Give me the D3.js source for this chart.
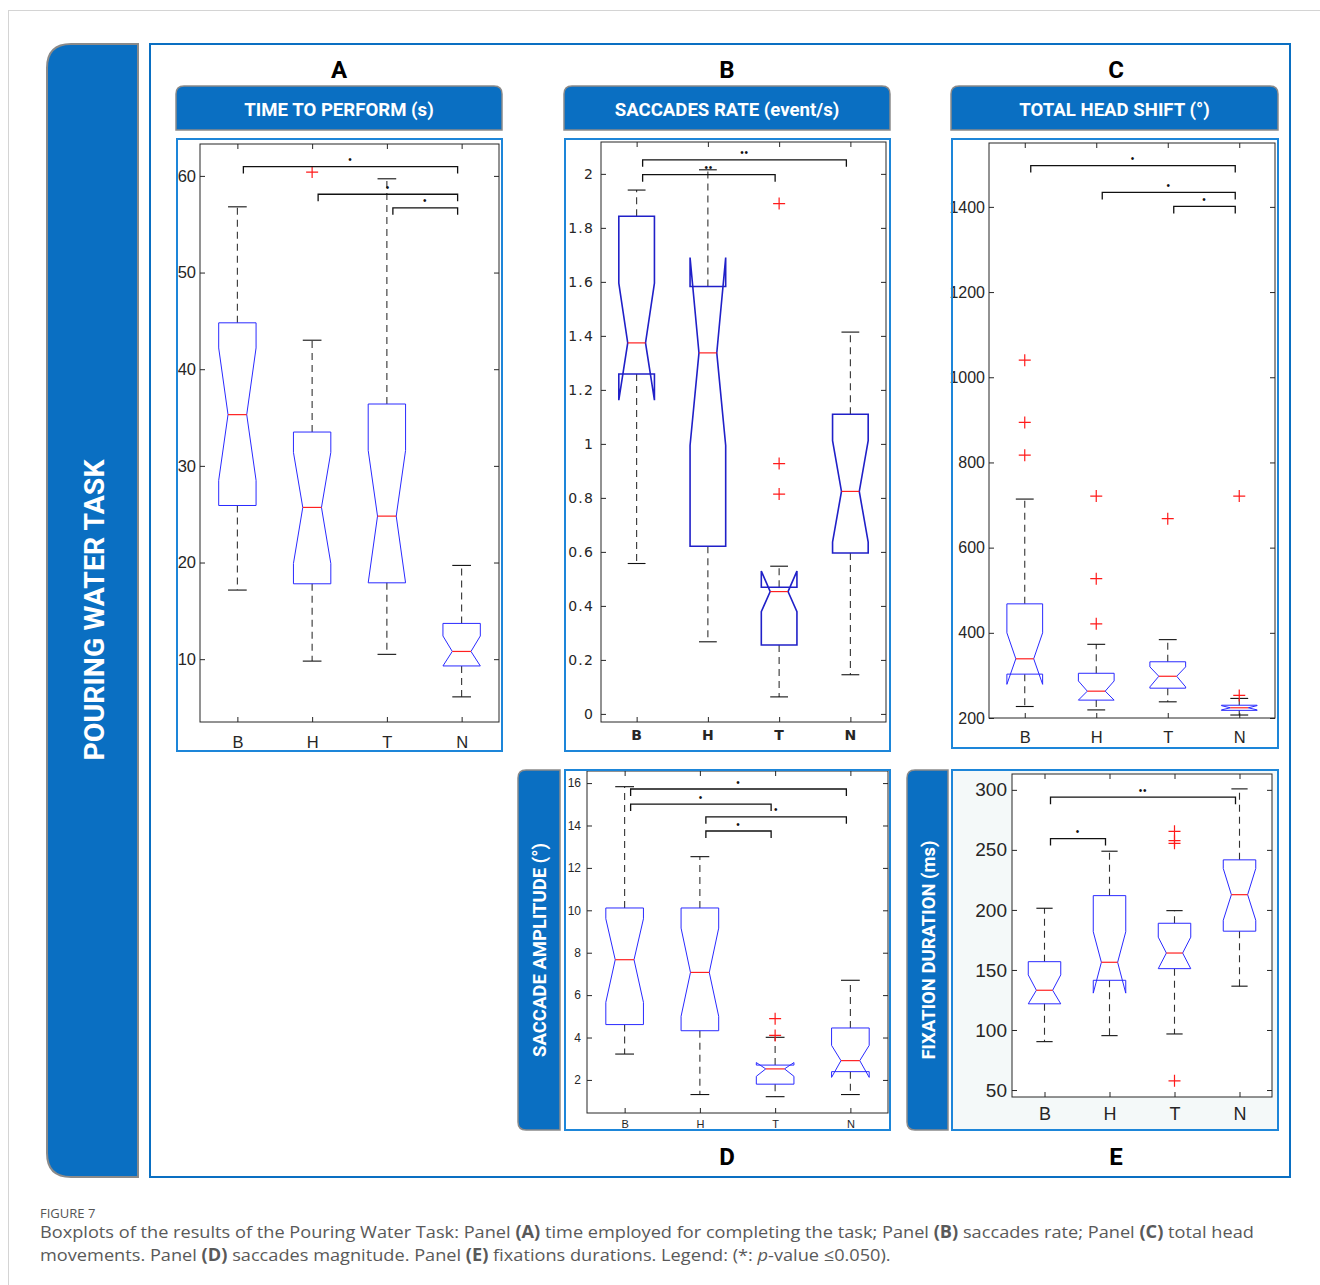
<!DOCTYPE html>
<html><head><meta charset="utf-8">
<script src="https://cdn.jsdelivr.net/npm/d3@7"></script>
<style>body{margin:0;background:#fff}</style>
</head><body>
<svg id="chart" width="1320" height="1285"></svg>
<script>
// ---------------- DATA ----------------
const categories = ["B", "H", "T", "N"];

// Panel A: time to perform (s)
const timeWhiskerLo = [17.15, 9.8, 10.5, 6.1];
const timeQ1        = [25.9, 17.8, 17.9, 9.3];
const timeNotchLo   = [28.5, 19.9, 17.9, 9.3];
const timeMedian    = [35.3, 25.7, 24.8, 10.8];
const timeNotchHi   = [42.2, 31.4, 31.6, 12.4];
const timeQ3        = [44.8, 33.5, 36.4, 13.7];
const timeWhiskerHi = [56.8, 43.0, 59.7, 19.7];
const timeOutliers  = [[], [60.4], [], []];
const timeTicks     = [10, 20, 30, 40, 50, 60];
const timeTickLabels = ["10", "20", "30", "40", "50", "60"];
const timeSig = [["B", "N", 60.96, "•"], ["H", "N", 58.1, "•"], ["T", "N", 56.7, "•"]];

// Panel B: saccades rate (event/s)
const rateWhiskerLo = [0.557, 0.267, 0.063, 0.145];
const rateQ1        = [1.259, 0.621, 0.255, 0.596];
const rateNotchLo   = [1.162, 0.994, 0.379, 0.636];
const rateMedian    = [1.374, 1.337, 0.453, 0.824];
const rateNotchHi   = [1.595, 1.690, 0.529, 1.012];
const rateQ3        = [1.843, 1.583, 0.469, 1.110];
const rateWhiskerHi = [1.940, 2.015, 0.547, 1.414];
const rateOutliers  = [[], [], [1.890, 0.927, 0.814], []];
const rateTicks     = [0, 0.2, 0.4, 0.6, 0.8, 1, 1.2, 1.4, 1.6, 1.8, 2];
const rateTickLabels = ["0", "0.2", "0.4", "0.6", "0.8", "1", "1.2", "1.4", "1.6", "1.8", "2"];
const rateSig = [["B", "N", 2.052, "••"], ["B", "T", 1.997, "••"]];

// Panel C: total head shift (°)
const headWhiskerLo = [227, 219, 238, 207];
const headQ1        = [303, 242, 270, 218];
const headNotchLo   = [279, 242, 273, 219];
const headMedian    = [339, 263, 298, 224];
const headNotchHi   = [400, 287, 320, 229];
const headQ3        = [468, 305, 332, 230];
const headWhiskerHi = [714, 373, 384, 246];
const headOutliers  = [[1040, 894, 817], [721, 527, 421], [668], [721, 253]];
const headTicks     = [200, 400, 600, 800, 1000, 1200, 1400];
const headTickLabels = ["200", "400", "600", "800", "1000", "1200", "1400"];
const headSig = [["B", "N", 1497, "•"], ["H", "N", 1434, "•"], ["T", "N", 1401, "•"]];

// Panel D: saccade amplitude (°)
const ampWhiskerLo = [3.22, 1.31, 1.21, 1.31];
const ampQ1        = [4.61, 4.32, 1.80, 2.39];
const ampNotchLo   = [5.66, 5.00, 2.17, 2.12];
const ampMedian    = [7.67, 7.07, 2.52, 2.91];
const ampNotchHi   = [9.60, 9.16, 2.82, 3.63];
const ampQ3        = [10.11, 10.11, 2.70, 4.45];
const ampWhiskerHi = [15.83, 12.53, 4.01, 6.70];
const ampOutliers  = [[], [], [4.89, 4.10], []];
const ampTicks     = [2, 4, 6, 8, 10, 12, 14, 16];
const ampTickLabels = ["2", "4", "6", "8", "10", "12", "14", "16"];
const ampSig = [["B", "N", 15.72, "•"], ["B", "T", 15.01, "•"], ["H", "N", 14.41, "•"], ["H", "T", 13.74, "•"]];

// Panel E: fixation duration (ms)
const fixWhiskerLo = [90.3, 95.3, 96.7, 136.5];
const fixQ1        = [121.8, 141.4, 151.1, 182.3];
const fixNotchLo   = [121.8, 130.7, 151.1, 191.4];
const fixMedian    = [133.1, 156.4, 164.1, 212.7];
const fixNotchHi   = [145.9, 181.8, 177.3, 234.5];
const fixQ3        = [156.9, 211.9, 188.9, 241.7];
const fixWhiskerHi = [201.4, 248.9, 199.4, 300.8];
const fixOutliers  = [[], [], [265.5, 257.7, 255.5, 57.7], []];
const fixTicks     = [50, 100, 150, 200, 250, 300];
const fixTickLabels = ["50", "100", "150", "200", "250", "300"];
const fixSig = [["B", "N", 293.9, "••"], ["B", "H", 259.4, "•"]];

// ---------------- DRAWING ----------------
const BLUE = "#0a6fc2";
const FRAME = "#1d86d9";
const svg = d3.select("#chart");

// outer card
svg.append("rect").attr("x", 8.5).attr("y", 10.5).attr("width", 1340).attr("height", 1320)
  .attr("fill", "none").attr("stroke", "#d4d4d4").attr("stroke-width", 1);

function topRounded(x0, y0, x1, y1, r) {
  return `M${x0},${y1}L${x0},${y0 + r}Q${x0},${y0} ${x0 + r},${y0}L${x1 - r},${y0}Q${x1},${y0} ${x1},${y0 + r}L${x1},${y1}Z`;
}
function leftRounded(x0, y0, x1, y1, r) {
  return `M${x1},${y0}L${x0 + r},${y0}Q${x0},${y0} ${x0},${y0 + r}L${x0},${y1 - r}Q${x0},${y1} ${x0 + r},${y1}L${x1},${y1}Z`;
}

// left banner
svg.append("path").attr("d", leftRounded(47, 44, 138, 1177, 24))
  .attr("fill", BLUE).attr("stroke", "#8a8a8a").attr("stroke-width", 2);
svg.append("text").attr("transform", "translate(104,610) rotate(-90)")
  .attr("text-anchor", "middle").attr("fill", "#fff")
  .attr("font-family", "Roboto, Arial, sans-serif").attr("font-weight", 700).attr("font-size", 28.5)
  .text("POURING WATER TASK");

// main frame
svg.append("rect").attr("x", 150).attr("y", 44).attr("width", 1140).attr("height", 1133)
  .attr("fill", "none").attr("stroke", BLUE).attr("stroke-width", 2);

// panel letters
const letters = [["A", 339, 78], ["B", 727, 78], ["C", 1116, 78], ["D", 727, 1165], ["E", 1116, 1165]];
letters.forEach(([t, lx, ly]) => {
  svg.append("text").attr("x", lx).attr("y", ly).attr("text-anchor", "middle")
    .attr("font-family", "Roboto, Arial, sans-serif").attr("font-weight", 700).attr("font-size", 24)
    .attr("fill", "#000").text(t);
});

// top headers
const headers = [["TIME TO PERFORM (s)", 176, 502], ["SACCADES RATE (event/s)", 564, 890], ["TOTAL HEAD SHIFT (°)", 951, 1278]];
headers.forEach(([t, x0, x1]) => {
  svg.append("path").attr("d", topRounded(x0, 86, x1, 130, 8))
    .attr("fill", BLUE).attr("stroke", "#8a8a8a").attr("stroke-width", 1.5);
  svg.append("text").attr("x", (x0 + x1) / 2).attr("y", 116).attr("text-anchor", "middle")
    .attr("fill", "#fff").attr("font-family", "Roboto, Arial, sans-serif").attr("font-weight", 700)
    .attr("font-size", 18.6).text(t);
});

// side headers (D, E)
const sideHeaders = [["SACCADE AMPLITUDE (°)", 518, 560], ["FIXATION DURATION (ms)", 907, 948]];
sideHeaders.forEach(([t, x0, x1]) => {
  svg.append("path").attr("d", leftRounded(x0, 770, x1, 1130, 8))
    .attr("fill", BLUE).attr("stroke", "#8a8a8a").attr("stroke-width", 1.5);
  svg.append("text").attr("transform", `translate(${(x0 + x1) / 2 + 7},950) rotate(-90)`)
    .attr("text-anchor", "middle").attr("fill", "#fff")
    .attr("font-family", "Roboto, Arial, sans-serif").attr("font-weight", 700).attr("font-size", 18.5)
    .text(t);
});

const NARROW = '"Liberation Sans Narrow", "Arial Narrow", Arial, sans-serif';
const panels = [
  { frame: [177, 139, 502, 751], left: 200, right: 499, top: 144, bottom: 722, domain: [3.5, 63.3],
    ticks: timeTicks, labels: timeTickLabels, yFont: NARROW, yFs: 16.5, xFont: NARROW, xFs: 16.5, yPad: 4, xPad: 14,
    wLo: timeWhiskerLo, q1: timeQ1, nLo: timeNotchLo, med: timeMedian, nHi: timeNotchHi, q3: timeQ3, wHi: timeWhiskerHi,
    out: timeOutliers, sig: timeSig, boxColor: "#2a2aff", boxW: 1 },
  { frame: [565, 139, 890, 751], left: 601, right: 886, top: 142, bottom: 722, domain: [-0.03, 2.118],
    ticks: rateTicks, labels: rateTickLabels, yFont: '"DejaVu Sans", sans-serif', yFs: 14, xFont: '"DejaVu Sans", sans-serif', xFs: 14, yPad: 7, xPad: 8, ls: 1.2, xBold: true,
    wLo: rateWhiskerLo, q1: rateQ1, nLo: rateNotchLo, med: rateMedian, nHi: rateNotchHi, q3: rateQ3, wHi: rateWhiskerHi,
    out: rateOutliers, sig: rateSig, boxColor: "#2020c8", boxW: 1.6 },
  { frame: [952, 139, 1278, 748], left: 989, right: 1275, top: 143, bottom: 718, domain: [200, 1550],
    ticks: headTicks, labels: headTickLabels, yFont: NARROW, yFs: 16, xFont: NARROW, xFs: 16.5, yPad: 4, xPad: 13,
    wLo: headWhiskerLo, q1: headQ1, nLo: headNotchLo, med: headMedian, nHi: headNotchHi, q3: headQ3, wHi: headWhiskerHi,
    out: headOutliers, sig: headSig, boxColor: "#2a2aff", boxW: 1 },
  { frame: [565, 770, 890, 1130], left: 587, right: 888, top: 771, bottom: 1113, domain: [0.44, 16.57],
    ticks: ampTicks, labels: ampTickLabels, yFont: 'Arial, "Liberation Sans", sans-serif', yFs: 12, xFont: 'Arial, "Liberation Sans", sans-serif', xFs: 11, yPad: 6, xPad: 7,
    wLo: ampWhiskerLo, q1: ampQ1, nLo: ampNotchLo, med: ampMedian, nHi: ampNotchHi, q3: ampQ3, wHi: ampWhiskerHi,
    out: ampOutliers, sig: ampSig, boxColor: "#2a2aff", boxW: 1 },
  { frame: [952, 770, 1278, 1130], left: 1012, right: 1272, top: 774, bottom: 1097, domain: [44.2, 313.2],
    ticks: fixTicks, labels: fixTickLabels, yFont: NARROW, yFs: 19, xFont: 'Arial, "Liberation Sans", sans-serif', xFs: 18, yPad: 5, xPad: 10,
    wLo: fixWhiskerLo, q1: fixQ1, nLo: fixNotchLo, med: fixMedian, nHi: fixNotchHi, q3: fixQ3, wHi: fixWhiskerHi,
    out: fixOutliers, sig: fixSig, boxColor: "#2a2aff", boxW: 1, bg: "#f4f9f9" }
];

const AX = "#262626";
panels.forEach(p => {
  const g = svg.append("g");
  const [fx0, fy0, fx1, fy1] = p.frame;
  g.append("rect").attr("x", fx0).attr("y", fy0).attr("width", fx1 - fx0).attr("height", fy1 - fy0)
    .attr("fill", p.bg || "#fff");
  const x = d3.scaleLinear().domain([0.5, 4.5]).range([p.left, p.right]);
  const y = d3.scaleLinear().domain(p.domain).range([p.bottom, p.top]);
  g.append("rect").attr("x", p.left).attr("y", p.top).attr("width", p.right - p.left).attr("height", p.bottom - p.top)
    .attr("fill", "#fff");
  const idx = categories.map((c, i) => i + 1);
  const style = (sel, font, fs, bold) => {
    sel.select(".domain").remove();
    sel.selectAll(".tick line").attr("stroke", AX);
    sel.selectAll(".tick text").attr("fill", AX).attr("letter-spacing", p.ls || 0);
    sel.attr("font-family", font).attr("font-size", fs).attr("font-weight", bold ? 700 : 400);
  };
  g.append("g").attr("transform", `translate(0,${p.bottom})`)
    .call(d3.axisBottom(x).tickValues(idx).tickFormat(i => categories[i - 1]).tickSizeInner(-5).tickSizeOuter(0).tickPadding(p.xPad))
    .call(s => style(s, p.xFont, p.xFs, p.xBold));
  g.append("g").attr("transform", `translate(0,${p.top})`)
    .call(d3.axisTop(x).tickValues(idx).tickFormat("").tickSizeInner(-5).tickSizeOuter(0))
    .call(s => style(s, p.xFont, p.xFs));
  g.append("g").attr("transform", `translate(${p.left},0)`)
    .call(d3.axisLeft(y).tickValues(p.ticks).tickFormat((d, i) => p.labels[i]).tickSizeInner(-5).tickSizeOuter(0).tickPadding(p.yPad))
    .call(s => style(s, p.yFont, p.yFs));
  g.append("g").attr("transform", `translate(${p.right},0)`)
    .call(d3.axisRight(y).tickValues(p.ticks).tickFormat("").tickSizeInner(-5).tickSizeOuter(0))
    .call(s => style(s, p.yFont, p.yFs));
  g.append("rect").attr("x", p.left).attr("y", p.top).attr("width", p.right - p.left).attr("height", p.bottom - p.top)
    .attr("fill", "none").attr("stroke", AX).attr("stroke-width", 1);

  const hw = (x(1.25) - x(1));
  const iw = (x(1.125) - x(1));
  categories.forEach((c, i) => {
    const cx = x(i + 1);
    // whiskers
    g.append("line").attr("x1", cx).attr("x2", cx).attr("y1", y(p.q3[i])).attr("y2", y(p.wHi[i]))
      .attr("stroke", "#333").attr("stroke-width", 1.1).attr("stroke-dasharray", "7,5");
    g.append("line").attr("x1", cx).attr("x2", cx).attr("y1", y(p.q1[i])).attr("y2", y(p.wLo[i]))
      .attr("stroke", "#333").attr("stroke-width", 1.1).attr("stroke-dasharray", "7,5");
    [p.wHi[i], p.wLo[i]].forEach(v => {
      g.append("line").attr("x1", cx - iw).attr("x2", cx + iw).attr("y1", y(v)).attr("y2", y(v))
        .attr("stroke", "#111").attr("stroke-width", 1.1);
    });
    // notched box
    const pts = [
      [cx - hw, y(p.q1[i])], [cx - hw, y(p.nLo[i])], [cx - iw, y(p.med[i])], [cx - hw, y(p.nHi[i])],
      [cx - hw, y(p.q3[i])], [cx + hw, y(p.q3[i])], [cx + hw, y(p.nHi[i])], [cx + iw, y(p.med[i])],
      [cx + hw, y(p.nLo[i])], [cx + hw, y(p.q1[i])]
    ];
    g.append("path").attr("d", d3.line()(pts) + "Z").attr("fill", "none")
      .attr("stroke", p.boxColor).attr("stroke-width", p.boxW);
    g.append("line").attr("x1", cx - iw).attr("x2", cx + iw).attr("y1", y(p.med[i])).attr("y2", y(p.med[i]))
      .attr("stroke", "#ff2020").attr("stroke-width", 1.2);
    // outliers
    p.out[i].forEach(v => {
      const yy = y(v);
      g.append("path").attr("d", `M${cx - 6},${yy}H${cx + 6}M${cx},${yy - 6}V${yy + 6}`)
        .attr("stroke", "#ff1a1a").attr("stroke-width", 1.2).attr("fill", "none");
    });
  });
  // significance brackets
  p.sig.forEach(([a, b, v, star]) => {
    const x1 = x(categories.indexOf(a) + 1) + 6;
    const x2 = x(categories.indexOf(b) + 1) - 4;
    const yy = y(v);
    g.append("path").attr("d", `M${x1},${yy + 7}V${yy}H${x2}V${yy + 7}`)
      .attr("fill", "none").attr("stroke", "#111").attr("stroke-width", 1.3);
    g.append("text").attr("x", (x1 + x2) / 2).attr("y", yy - 3.5).attr("text-anchor", "middle")
      .attr("font-family", "Arial, sans-serif").attr("font-size", 10).attr("letter-spacing", 0.8)
      .attr("fill", "#111").text(star);
  });
  g.append("rect").attr("x", fx0).attr("y", fy0).attr("width", fx1 - fx0).attr("height", fy1 - fy0)
    .attr("fill", "none").attr("stroke", FRAME).attr("stroke-width", 2);
});

// caption
const capFont = '"Open Sans", "Noto Sans", sans-serif';
svg.append("text").attr("x", 40).attr("y", 1218).attr("font-family", capFont).attr("font-size", 13)
  .attr("fill", "#555").text("FIGURE 7");
const line1 = [["Boxplots of the results of the Pouring Water Task: Panel ", 0], ["(A)", 1], [" time employed for completing the task; Panel ", 0], ["(B)", 1], [" saccades rate; Panel ", 0], ["(C)", 1], [" total head", 0]];
const line2 = [["movements. Panel ", 0], ["(D)", 1], [" saccades magnitude. Panel ", 0], ["(E)", 1], [" fixations durations. Legend: (*: ", 0], ["p", 2], ["-value ≤0.050).", 0]];
function capLine(parts, yy) {
  const t = svg.append("text").attr("x", 0).attr("y", 0).attr("font-family", capFont).attr("font-size", 17).attr("fill", "#595959");
  parts.forEach(([s, f]) => {
    const ts = t.append("tspan").text(s);
    if (f === 1) ts.attr("font-weight", 700);
    if (f === 2) ts.attr("font-style", "italic");
  });
  return [t, yy];
}
const c1 = capLine(line1, 1238), c2 = capLine(line2, 1261);
const w1 = c1[0].node().getComputedTextLength();
const sx = 1215 / w1;
[c1, c2].forEach(([t, yy]) => t.attr("transform", `translate(40,${yy}) scale(${sx},1)`));
</script>
</body></html>
